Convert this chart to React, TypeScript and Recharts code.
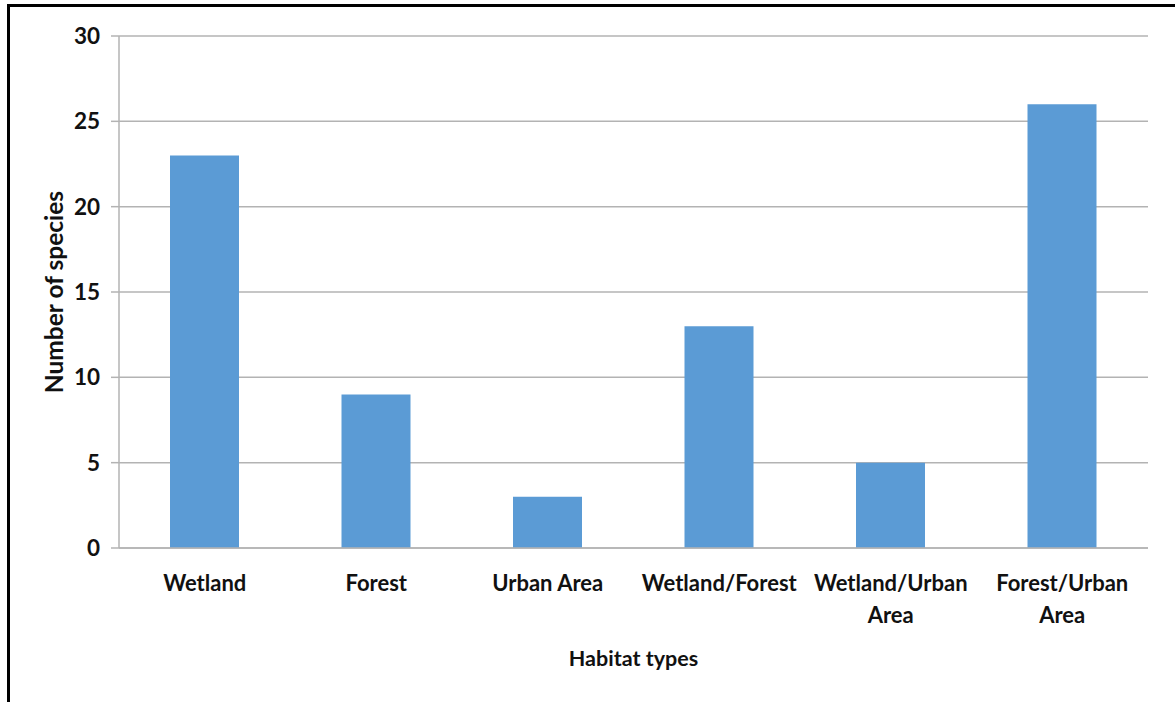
import React from 'react';
import {
  BarChart, CartesianGrid, XAxis, YAxis, Bar, Label,
} from 'recharts';

const habitats = [
  'Wetland',
  'Forest',
  'Urban Area',
  'Wetland/Forest',
  'Wetland/Urban Area',
  'Forest/Urban Area',
];
const speciesCounts = [23, 9, 3, 13, 5, 26];
const yTicks = [0, 5, 10, 15, 20, 25, 30];

// Excel wraps the two long category names
const labelLines: Record<string, string[]> = {
  'Wetland/Urban Area': ['Wetland/Urban', 'Area'],
  'Forest/Urban Area': ['Forest/Urban', 'Area'],
};

const chartData = habitats.map((name, i) => ({
  name,
  species: speciesCounts[i],
}));

const font = 'Lato, "Open Sans", sans-serif';

const CategoryTick = (props: any) => {
  const { x, y, payload } = props;
  const lines = labelLines[payload.value] || [payload.value];
  return (
    <text
      x={x}
      y={y}
      textAnchor="middle"
      fill="#111"
      fontSize={22}
      fontWeight={700}
      fontFamily={font}
    >
      {lines.map((line, i) => (
        <tspan key={line} x={x} dy={i === 0 ? 35 : 32}>
          {line}
        </tspan>
      ))}
    </text>
  );
};

const App = () => {
  return (
    <div style={{ position: 'fixed', left: 0, top: 0, width: 1175, height: 702, background: '#fff' }}>
      <div
        style={{
          position: 'absolute',
          left: 7,
          top: 4,
          right: 0,
          bottom: 0,
          borderTop: '3px solid #000',
          borderLeft: '3px solid #000',
        }}
      />
      <div style={{ position: 'absolute', left: 0, top: 0 }}>
        <BarChart
          width={1175}
          height={702}
          data={chartData}
          margin={{ top: 36, right: 27, bottom: 0, left: 0 }}
        >
          <CartesianGrid vertical={false} stroke="#b3b3b3" strokeWidth={1.5} />
          <XAxis
            dataKey="name"
            tickLine={false}
            axisLine={{ stroke: '#b3b3b3', strokeWidth: 1.5 }}
            tick={<CategoryTick />}
            interval={0}
            height={154}
          >
            <Label
              value="Habitat types"
              position="insideBottom"
              offset={36}
              fill="#111"
              fontSize={21.5}
              fontWeight={700}
              fontFamily={font}
            />
          </XAxis>
          <YAxis
            domain={[0, 30]}
            ticks={yTicks}
            width={119}
            tickSize={8}
            tickMargin={11}
            tickLine={{ stroke: '#b3b3b3', strokeWidth: 1.5 }}
            axisLine={{ stroke: '#b3b3b3', strokeWidth: 1.5 }}
            tick={{ fill: '#111', fontSize: 22.5, fontWeight: 700, fontFamily: font }}
          >
            <Label
              value="Number of species"
              angle={-90}
              position="insideLeft"
              offset={54}
              fill="#111"
              fontSize={24.5}
              fontWeight={700}
              fontFamily={font}
              style={{ textAnchor: 'middle' }}
            />
          </YAxis>
          <Bar dataKey="species" fill="#5b9bd5" barSize={69} isAnimationActive={false} />
        </BarChart>
      </div>
    </div>
  );
};

export default App;
